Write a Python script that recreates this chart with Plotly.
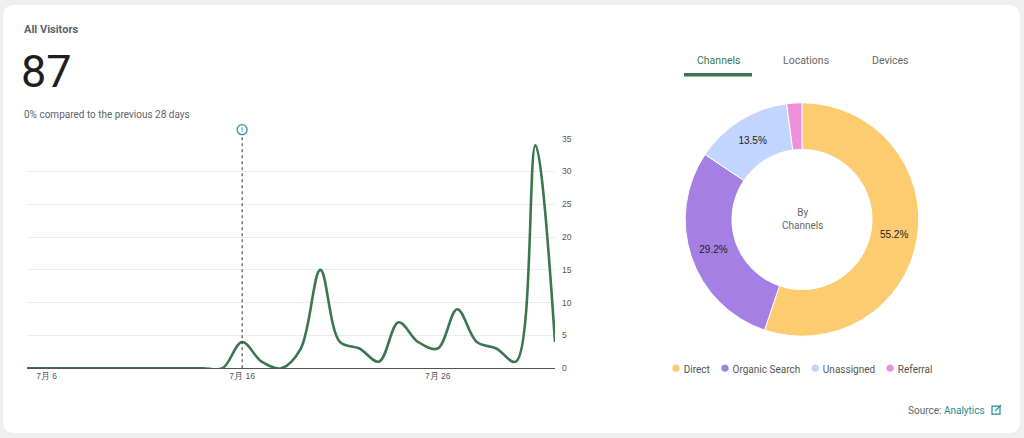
import plotly.graph_objects as go

# daily visitors, 7/5 .. 8/1
days = [
    "2024-07-05", "2024-07-06", "2024-07-07", "2024-07-08", "2024-07-09", "2024-07-10", "2024-07-11",
    "2024-07-12", "2024-07-13", "2024-07-14", "2024-07-15", "2024-07-16", "2024-07-17", "2024-07-18",
    "2024-07-19", "2024-07-20", "2024-07-21", "2024-07-22", "2024-07-23", "2024-07-24", "2024-07-25",
    "2024-07-26", "2024-07-27", "2024-07-28", "2024-07-29", "2024-07-30", "2024-07-31", "2024-08-01",
]
visitors = [0, 0, 0, 0, 0, 0, 0, 0, 0, 0, 0, 4, 1, 0, 3, 15, 4, 3, 1, 7, 4, 3, 9, 4, 3, 1, 34, 4]
tick_days = ["2024-07-06", "2024-07-16", "2024-07-26"]
tick_labels = ["7月 6", "7月 16", "7月 26"]
marker_day = "2024-07-16"

channels = ["Direct", "Organic Search", "Unassigned", "Referral"]
channel_share = [55.2, 29.2, 13.5, 2.1]
channel_colors = ["#fdcb70", "#a67fe4", "#c1d5fe", "#ee91da"]

total_visitors = "87"
W, H = 1024, 438


def px(x):
    return x / W


def py(y):
    # page y (px from top) -> paper fraction, corrected for how the page is photographed
    return min(1.0, max(0.0, 1 - (y - 5.1) / 0.979 / H))


fig = go.Figure()

fig.add_trace(go.Scatter(
    x=days, y=visitors,
    mode="lines",
    line=dict(color="#3b7651", width=2.6, shape="spline", smoothing=1),
    showlegend=False,
    hoverinfo="x+y",
))

fig.add_trace(go.Pie(
    labels=channels,
    values=channel_share,
    text=[f"{v:.1f}%" if v > 5 else "" for v in channel_share],
    textinfo="text",
    textposition="inside",
    insidetextorientation="horizontal",
    textfont=dict(family="Liberation Sans, Arial", size=10, color="#222222"),
    marker=dict(colors=channel_colors, line=dict(color="white", width=1)),
    hole=0.6,
    sort=False,
    direction="clockwise",
    rotation=0,
    showlegend=False,
    domain=dict(x=[px(685), px(919)], y=[py(337), py(103)]),
))

# white card with rounded corners
r = 12
x0, x1, y0, y1 = px(3), px(1020), py(434), py(5)
rx, ry = r / W, r / H
card = (f"M {x0 + rx},{y1} L {x1 - rx},{y1} Q {x1},{y1} {x1},{y1 - ry} "
        f"L {x1},{y0 + ry} Q {x1},{y0} {x1 - rx},{y0} L {x0 + rx},{y0} "
        f"Q {x0},{y0} {x0},{y0 + ry} L {x0},{y1 - ry} Q {x0},{y1} {x0 + rx},{y1} Z")

shapes = [
    dict(type="path", xref="paper", yref="paper", path=card,
         fillcolor="white", line=dict(width=0), layer="below"),
    # marker line at 7/16
    dict(type="line", xref="x", yref="paper", x0=marker_day, x1=marker_day,
         y0=py(369), y1=py(136), line=dict(color="#333333", width=1, dash="dot")),
    dict(type="circle", xref="x", yref="paper", xsizemode="pixel", ysizemode="pixel",
         xanchor=marker_day, yanchor=py(130), x0=-5, x1=5, y0=-5, y1=5,
         line=dict(color="#2a8a8c", width=1.2), fillcolor="white"),
    # tab underline
    dict(type="line", xref="paper", yref="paper", x0=px(684), x1=px(752),
         y0=py(75), y1=py(75), line=dict(color="#3b7651", width=3.5)),
    # external link icon
    dict(type="rect", xref="paper", yref="paper", x0=px(992), x1=px(1000),
         y0=py(415), y1=py(407), line=dict(color="#1e8c93", width=1.2)),
    dict(type="line", xref="paper", yref="paper", x0=px(995), x1=px(1001),
         y0=py(412), y1=py(406), line=dict(color="#1e8c93", width=1.2)),
]

font = "Roboto, Noto Sans, sans-serif"
annotations = [
    dict(text="<b>All Visitors</b>", x=px(22), y=py(30), xanchor="left", yanchor="middle",
         font=dict(family=font, size=11, color="#5f6368")),
    dict(text=total_visitors, x=px(19), y=py(72), xanchor="left", yanchor="middle",
         font=dict(family=font, size=45, color="#1f1f1f")),
    dict(text="0% compared to the previous 28 days", x=px(22), y=py(115), xanchor="left",
         yanchor="middle", font=dict(family=font, size=10, color="#5f6368")),
    dict(text="i", xref="x", x=marker_day, y=py(130), yanchor="middle", xanchor="center",
         font=dict(family=font, size=8, color="#2a8a8c")),
    dict(text="Channels", x=px(718), y=py(61), xanchor="center", yanchor="middle",
         font=dict(family=font, size=10.5, color="#3b7651")),
    dict(text="Locations", x=px(806), y=py(61), xanchor="center", yanchor="middle",
         font=dict(family=font, size=10.5, color="#666666")),
    dict(text="Devices", x=px(890), y=py(61), xanchor="center", yanchor="middle",
         font=dict(family=font, size=10.5, color="#666666")),
    dict(text="By<br>Channels", x=px(802), y=py(220), xanchor="center", yanchor="middle",
         font=dict(family=font, size=10, color="#666666")),
    dict(text="Source: <span style='color:#1e8c93'>Analytics</span>", x=px(987), y=py(411),
         xanchor="right", yanchor="middle", font=dict(family=font, size=10, color="#5f6368")),
]

legend_parts = [f"<span style='color:{c};font-size:17px'>●</span> {n}"
                for n, c in zip(channels, channel_colors)]
annotations.append(dict(
    text="&nbsp;&nbsp;&nbsp;&nbsp;".join(legend_parts), x=px(801), y=py(368),
    xanchor="center", yanchor="middle", font=dict(family=font, size=10, color="#555555"),
))
for a in annotations:
    a.setdefault("xref", "paper")
    a.setdefault("yref", "paper")
    a["showarrow"] = False

fig.update_layout(
    autosize=True,
    margin=dict(l=0, r=0, t=0, b=0),
    paper_bgcolor="#efefef",
    plot_bgcolor="rgba(0,0,0,0)",
    shapes=shapes,
    annotations=annotations,
    xaxis=dict(
        domain=[px(27), px(555)],
        range=[days[0], days[-1]],
        tickvals=tick_days, ticktext=tick_labels,
        showgrid=False, zeroline=False,
        showline=True, linecolor="#555555", linewidth=1,
        tickfont=dict(family="Liberation Sans, Arial", size=8.5, color="#555555"),
        ticks="",
    ),
    yaxis=dict(
        domain=[py(369), py(139)],
        range=[0, 35], dtick=5, side="right",
        showgrid=True, gridcolor="#ebebf0", gridwidth=1,
        zeroline=False, showline=False, ticks="",
        ticklabelstandoff=6,
        tickfont=dict(family="Liberation Sans, Arial", size=8.5, color="#555555"),
    ),
)

fig.write_html(
    "out.html",
    default_width="100vw",
    default_height="100vh",
    config={"displayModeBar": False},
    post_script="document.body.style.margin='0';document.body.style.overflow='hidden';",
)
